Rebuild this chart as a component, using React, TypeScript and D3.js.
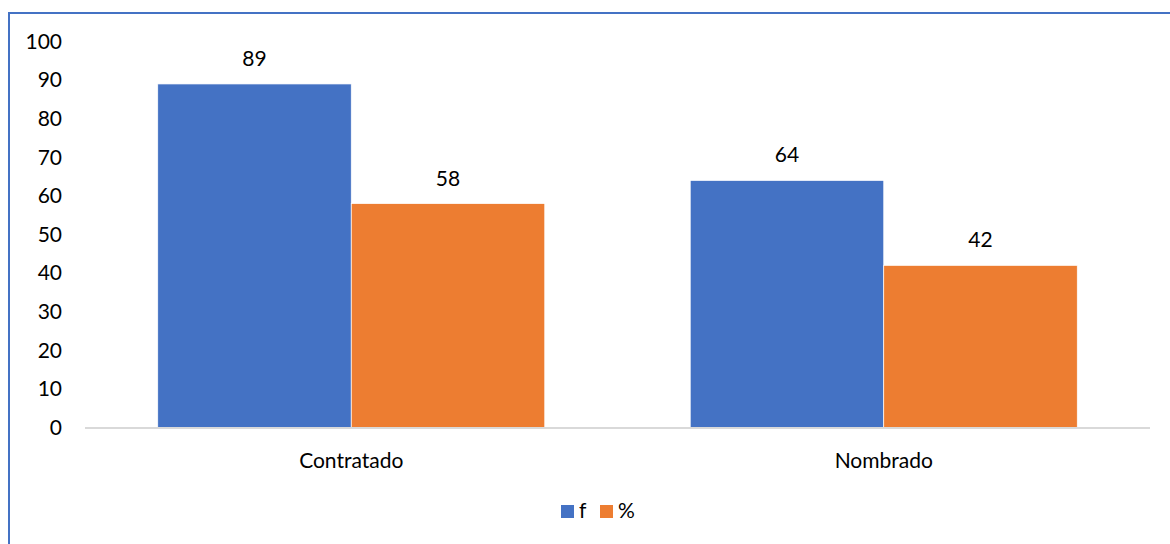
import React from "react";
import * as d3 from "d3";

const categories = ["Contratado", "Nombrado"];
const seriesNames = ["f", "%"];
const fValues = [89, 64];
const pctValues = [58, 42];
const yTicks = [0, 10, 20, 30, 40, 50, 60, 70, 80, 90, 100];
const colors = ["#4472C4", "#ED7D31"];

const W = 1170;
const H = 544;
const FONT = "Lato, 'Open Sans', sans-serif";
const FS = 21;

export default function App() {
  const values = [fValues, pctValues];
  const x = d3.scaleBand<string>().domain(categories).range([85, 1150]).paddingInner(0.2732).paddingOuter(0.1366);
  const xs = d3.scaleBand<string>().domain(seriesNames).range([0, x.bandwidth()]).padding(0);
  const y = d3.scaleLinear().domain([0, 100]).range([427.5, 41.5]);

  return (
    <svg width={W} height={H} style={{ position: "absolute", left: 0, top: 0, background: "#fff" }} fontFamily={FONT}>
      <rect x={0} y={0} width={W} height={H} fill="#fff" />
      {/* border */}
      <line x1={9} x2={W} y1={13} y2={13} stroke="#4472C4" strokeWidth={2} />
      <line x1={9} x2={9} y1={12} y2={H} stroke="#4472C4" strokeWidth={2} />
      {/* y tick labels */}
      {yTicks.map((t) => (
        <text key={t} x={62} y={y(t)} dy="0.35em" textAnchor="end" fontSize={FS} fill="#000">
          {t}
        </text>
      ))}
      {/* bars */}
      {categories.map((c, ci) =>
        seriesNames.map((s, si) => {
          const v = values[si][ci];
          const bx = (x(c) ?? 0) + (xs(s) ?? 0);
          return (
            <g key={c + s}>
              <rect x={bx} y={y(v)} width={xs.bandwidth()} height={y(0) - y(v)} fill={colors[si]} stroke="#fff" strokeWidth={0.7} />
              <text x={bx + xs.bandwidth() / 2} y={y(v) - 18} textAnchor="middle" fontSize={FS} fill="#000">
                {v}
              </text>
            </g>
          );
        })
      )}
      {/* x axis line */}
      <line x1={85} x2={1150} y1={428} y2={428} stroke="#d9d9d9" strokeWidth={2} />
      {/* x labels */}
      {categories.map((c) => (
        <text key={c} x={(x(c) ?? 0) + x.bandwidth() / 2} y={468} textAnchor="middle" fontSize={FS} fill="#000">
          {c}
        </text>
      ))}
      {/* legend */}
      {seriesNames.map((s, i) => {
        const lx = [561, 600][i];
        return (
          <g key={s}>
            <rect x={lx} y={505} width={13} height={13} fill={colors[i]} />
            <text x={lx + 18} y={518} fontSize={FS} fill="#000">
              {s}
            </text>
          </g>
        );
      })}
    </svg>
  );
}
